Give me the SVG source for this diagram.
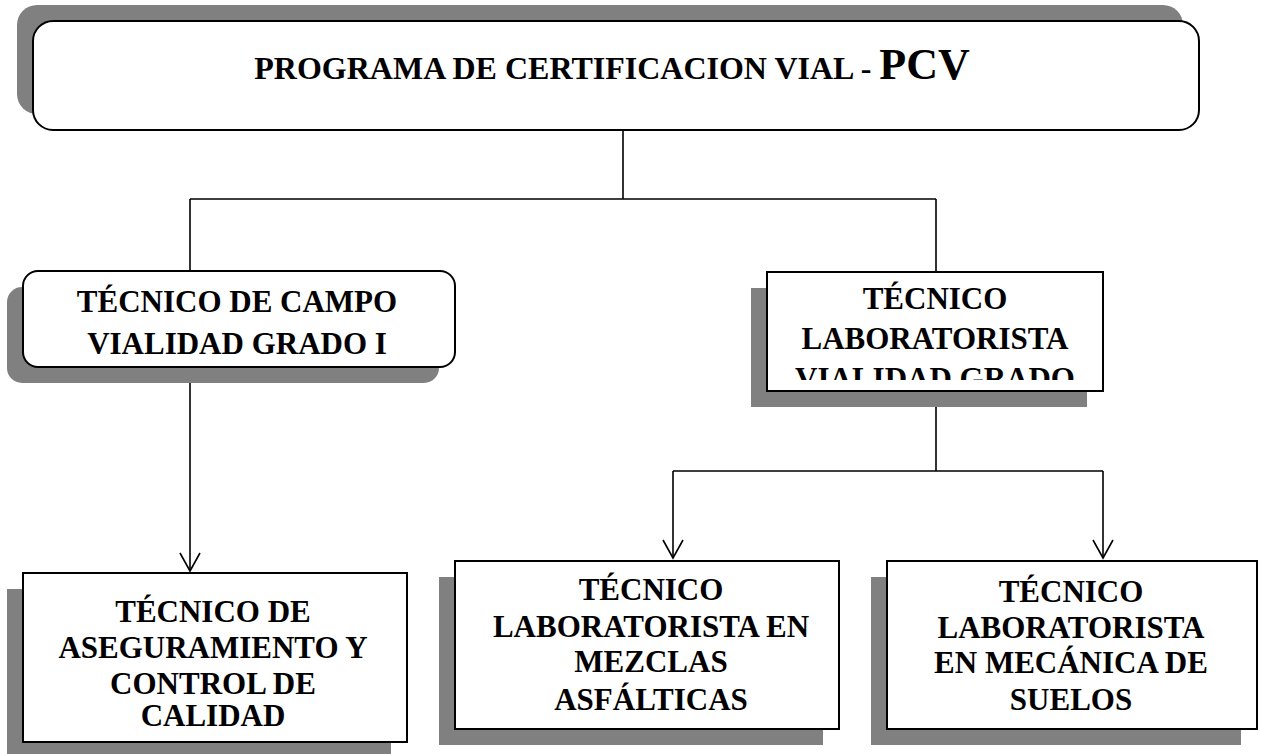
<svg xmlns="http://www.w3.org/2000/svg" width="1261" height="754" viewBox="0 0 1261 754">
<style>
.shadow{fill:#808080;stroke:none}
.box{fill:#fff;stroke:#000;stroke-width:2}
.t{font-family:"Liberation Serif","Times New Roman",serif;font-weight:bold;font-size:31px;fill:#000;text-anchor:middle}
.conn{fill:none;stroke:#000;stroke-width:1.6}
</style>
<defs>
<marker id="arr" markerUnits="userSpaceOnUse" viewBox="-20 -12 22 24" refX="0" refY="0" markerWidth="22" markerHeight="24" orient="auto">
<path d="M-18,-10 L0,0 L-18,10" fill="none" stroke="#000" stroke-width="1.6"/>
</marker>
<clipPath id="clip3"><rect x="768" y="273" width="334" height="107"/></clipPath>
</defs>
<rect width="1261" height="754" fill="#fff"/>
<g id="connectors">
<path class="conn" d="M623,130 V199 M190,199 H936 M190,199 V272 M936,199 V272"/>
<path class="conn" d="M190,367 V571" marker-end="url(#arr)"/>
<path class="conn" d="M936,391 V471 M673,471 H1103"/>
<path class="conn" d="M673,471 V558" marker-end="url(#arr)"/>
<path class="conn" d="M1103,471 V558" marker-end="url(#arr)"/>
</g>
<g id="pcv">
<rect class="shadow" x="17" y="5" width="1166" height="109" rx="20"/>
<rect class="box" x="33" y="21" width="1166" height="109" rx="20"/>
<text class="t" x="612" y="79" style="font-size:32px">PROGRAMA DE CERTIFICACION VIAL - <tspan style="font-size:44px">PCV</tspan></text>
</g>
<g id="campo">
<rect class="shadow" x="7" y="287" width="432" height="96" rx="15"/>
<rect class="box" x="23" y="271" width="432" height="96" rx="15"/>
<text class="t" x="237" y="312">TÉCNICO DE CAMPO</text>
<text class="t" x="237" y="354">VIALIDAD GRADO I</text>
</g>
<g id="laboratorista">
<rect class="shadow" x="751" y="288" width="336" height="119"/>
<rect class="box" x="767" y="272" width="336" height="119"/>
<g clip-path="url(#clip3)">
<text class="t" x="935" y="309">TÉCNICO</text>
<text class="t" x="935" y="349">LABORATORISTA</text>
<text class="t" x="935" y="389">VIALIDAD GRADO</text>
</g>
</g>
<g id="aseguramiento">
<rect class="shadow" x="7" y="589" width="384" height="169"/>
<rect class="box" x="23" y="573" width="384" height="169"/>
<text class="t" x="213" y="622">TÉCNICO DE</text>
<text class="t" x="213" y="658">ASEGURAMIENTO Y</text>
<text class="t" x="213" y="694">CONTROL DE</text>
<text class="t" x="213" y="726">CALIDAD</text>
</g>
<g id="mezclas">
<rect class="shadow" x="439" y="577" width="384" height="168"/>
<rect class="box" x="455" y="561" width="384" height="168"/>
<text class="t" x="651" y="600">TÉCNICO</text>
<text class="t" x="651" y="637">LABORATORISTA EN</text>
<text class="t" x="651" y="672">MEZCLAS</text>
<text class="t" x="651" y="710">ASFÁLTICAS</text>
</g>
<g id="suelos">
<rect class="shadow" x="871" y="577" width="370" height="168"/>
<rect class="box" x="887" y="561" width="370" height="168"/>
<text class="t" x="1071" y="602">TÉCNICO</text>
<text class="t" x="1071" y="638">LABORATORISTA</text>
<text class="t" x="1071" y="673">EN MECÁNICA DE</text>
<text class="t" x="1071" y="710">SUELOS</text>
</g>
</svg>
